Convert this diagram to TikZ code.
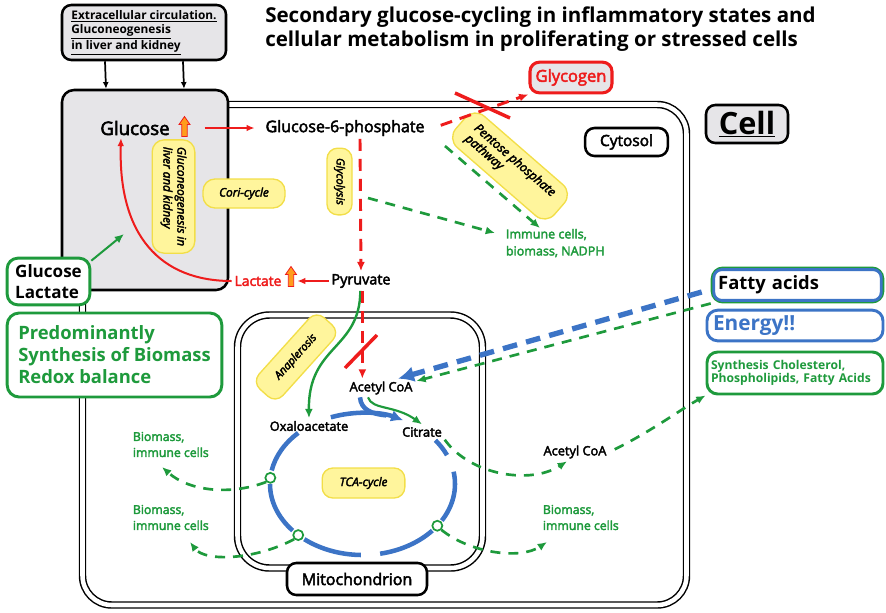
\documentclass[tikz,border=0pt]{standalone}
\usepackage{fontspec}
\setmainfont{Open Sans}
\newfontfamily\semi{Open Sans}[FakeBold=3]
\usetikzlibrary{arrows.meta}
\definecolor{cgreen}{HTML}{1E9A3C}
\definecolor{cred}{HTML}{EE1C1C}
\definecolor{cblue}{HTML}{3C74C6}
\definecolor{pillfill}{HTML}{FFF59C}
\definecolor{pillline}{HTML}{F2DE48}
\definecolor{boxgrey}{HTML}{E6E5E8}
\definecolor{uporange}{HTML}{FF9C1C}
\tikzset{
  uparrow/.pic={\filldraw[fill=uporange, draw=cred, line width=0.6pt]
    (0,-10) -- (5.5,-2) -- (2.7,-2) -- (2.7,10) -- (-2.7,10) -- (-2.7,-2) -- (-5.5,-2) -- cycle;}
}
\begin{document}
\begin{tikzpicture}[x=0.75pt,y=-0.75pt,
  every node/.style={inner sep=2pt},
  lbl/.style={font=\semi\fontsize{9.6}{11}\selectfont},
  glbl/.style={font=\semi\fontsize{9.2}{12}\selectfont, text=cgreen, align=left},
  pill/.style={draw=pillline, fill=pillfill, line width=1pt, rounded corners=8pt,
    font=\semi\itshape\fontsize{8.8}{10.5}\selectfont, align=left},
  frame/.style={draw=black, line width=1.9pt, rounded corners=7pt, fill=white},
  membrane/.style={draw=black, double=white, line width=1.1pt, double distance=3.4pt},
  gbox/.style={draw=cgreen, line width=2.2pt, rounded corners=8pt, fill=white},
  blkarr/.style={draw=black, line width=1.3pt, -{Latex[length=5pt,width=4.5pt]}},
  redarr/.style={draw=cred, line width=1.5pt, -{Latex[length=6pt,width=5pt]}},
  reddash/.style={draw=cred, line width=2.2pt, dash pattern=on 9pt off 6pt, -{Latex[length=7pt,width=6pt]}},
  gdash/.style={draw=cgreen, line width=2pt, dash pattern=on 7.5pt off 6pt, -{Latex[length=7pt,width=6pt]}},
  gsolid/.style={draw=cgreen, line width=1.8pt, -{Latex[length=7pt,width=6pt]}},
  bdash/.style={draw=cblue, line width=4pt, dash pattern=on 11pt off 7pt, -{Latex[length=12pt,width=12pt]}},
  tcaarc/.style={draw=cblue, line width=3.4pt},
  block/.style={draw=cred, line width=2.6pt},
  exitdot/.style={circle, draw=cgreen, fill=white, line width=1.3pt, minimum size=7.5pt, inner sep=0pt}
]
\useasboundingbox (0,0) rectangle (886,612);

% title
\node[anchor=north west, inner sep=0pt, align=left, font=\bfseries\fontsize{15.4}{17.5}\selectfont] (title) at (265,7)
  {Secondary glucose-cycling in inflammatory states and\\cellular metabolism in proliferating or stressed cells};

% cell membrane and mitochondrion
\draw[membrane, rounded corners=22pt] (82.5,104.5) rectangle (686.5,605);
\draw[membrane, rounded corners=24pt] (237.5,315) rectangle (482.5,568);

% extracellular side
\node[frame, fill=boxgrey, minimum width=123pt, minimum height=41.25pt, align=left, inner sep=1pt,
  font=\bfseries\fontsize{8.9}{10.5}\selectfont] (extra) at (144,32.5)
  {\underline{Extracellular circulation.}\\\underline{Gluconeogenesis}\\\underline{in liver and kidney}};
\node[frame, fill=boxgrey, minimum width=124.5pt, minimum height=150pt, rounded corners=9pt] (glubox) at (145,190) {};
\draw[blkarr] ([xshift=-29.25pt]extra.south) -- ([xshift=-29.25pt]glubox.north);
\draw[blkarr] ([xshift=29.25pt]extra.south) -- ([xshift=29.25pt]glubox.north);

% labels of compartments
\node[frame, fill=boxgrey, minimum width=61.5pt, minimum height=28.5pt, inner sep=0pt,
  font=\bfseries\fontsize{23}{26}\selectfont] (cell) at (747,124) {\underline{Cell}};
\node[frame, minimum width=62pt, minimum height=21pt, font=\semi\fontsize{11.6}{13}\selectfont] (cytosol) at (626.5,142) {Cytosol};
\node[frame, minimum width=105pt, minimum height=24pt, font=\semi\fontsize{12}{14}\selectfont] (mito) at (357,579) {Mitochondrion};
\node[frame, draw=cred, fill=boxgrey, line width=2.3pt, minimum width=61.5pt, minimum height=23pt,
  text=cred, font=\semi\fontsize{12.4}{14}\selectfont] (glycogen) at (571,77.5) {Glycogen};

% pathway pills
\node[pill, rotate=-90, minimum width=85pt, minimum height=32pt, rounded corners=9pt, inner sep=1pt] (gng) at (173.5,196.5)
  {Gluconeogenesis in\\liver and kidney};
\node[pill, minimum width=61.5pt, minimum height=21.75pt, rounded corners=9pt] (cori) at (244,193.5) {Cori-cycle};
\node[pill, rotate=-90, minimum width=50pt, minimum height=18.75pt, inner sep=1pt, font=\semi\itshape\fontsize{8.3}{9}\selectfont] (glycolysis) at (339.5,181.5) {Glycolysis};
\node[pill, rotate=-41, minimum width=98pt, minimum height=31pt, rounded corners=10pt,
  font=\semi\itshape\fontsize{9.2}{10.5}\selectfont] (ppp) at (510,166) {Pentose phosphate\\pathway};
\node[pill, rotate=48, minimum width=72pt, minimum height=24pt, font=\semi\itshape\fontsize{8.3}{9}\selectfont] (anap) at (296,357) {Anaplerosis};
\node[pill, minimum width=62pt, minimum height=22.5pt] (tca) at (363.5,483) {TCA-cycle};

% metabolites
\node[font=\semi\fontsize{14}{16}\selectfont] (gluc) at (135,128) {Glucose};
\pic at (184.5,126.5) {uparrow};
\node[font=\semi\fontsize{12}{14}\selectfont] (g6p) at (345,128) {Glucose-6-phosphate};
\node[font=\semi\fontsize{10.8}{12}\selectfont] (pyr) at (361,281) {Pyruvate};
\node[font=\semi\fontsize{10.4}{12}\selectfont, text=cred] (lac) at (258,281) {Lactate};
\pic at (291,276.5) {uparrow};
\node[lbl] (acoa) at (381,388) {Acetyl CoA};
\node[lbl] (oxa) at (309,426) {Oxaloacetate};
\node[lbl] (cit) at (422,432) {Citrate};
\node[lbl] (acoa2) at (575,452) {Acetyl CoA};

\node[glbl, anchor=north west, font=\semi\fontsize{9.4}{12.75}\selectfont] (immune) at (503,226) {Immune cells,\\biomass, NADPH};
\node[glbl, anchor=south west] (bm1) at (130,460) {Biomass,\\immune cells};
\node[glbl, anchor=south west] (bm2) at (130,533) {Biomass,\\immune cells};
\node[glbl, anchor=south west] (bm3) at (540,533) {Biomass,\\immune cells};

% boxes outside the cell
\node[gbox, minimum width=62pt, minimum height=35pt, align=left, inner sep=1pt,
  font=\bfseries\fontsize{12.8}{15.75}\selectfont] (gl) at (48.5,281.5) {Glucose\\Lactate};
\node[gbox, minimum width=161pt, minimum height=63pt, rounded corners=9pt, align=left, text=cgreen, inner sep=1pt,
  font=\bfseries\fontsize{13.8}{16.5}\selectfont] (pred) at (114.5,355)
  {Predominantly\\Synthesis of Biomass\\Redox balance};
\node[gbox, text width=119pt, inner xsep=4.5pt, minimum height=25.5pt, align=left,
  font=\bfseries\fontsize{13.8}{15}\selectfont] (fa) at (797.5,285) {Fatty acids};
\draw[cblue, line width=2.2pt, rounded corners=6pt] ([shift={(2.3pt,-2.3pt)}]fa.north west) rectangle ([shift={(-2.3pt,2.3pt)}]fa.south east);
\node[draw=cblue, line width=2.2pt, rounded corners=8pt, fill=white, text=cblue, text width=123pt, inner xsep=4.5pt,
  minimum height=23pt, align=left, font=\bfseries\fontsize{15.6}{17}\selectfont] (en) at (795,325.5) {Energy!!};
\node[gbox, text=cgreen, text width=126pt, inner xsep=3pt, minimum height=31.5pt, align=left,
  font=\bfseries\fontsize{9.1}{10}\selectfont] (syn) at (795,373) {Synthesis Cholesterol,\\Phospholipids, Fatty Acids};

% glycolysis and branches
\draw[redarr] ([xshift=24pt]gluc.east) -- ([xshift=-6pt]g6p.west);
\draw[reddash] ([xshift=11.25pt]g6p.south) -- (pyr.north);
\draw[reddash] ([shift={(10pt,2pt)}]g6p.east) -- (glycogen.south west);
\draw[block] (455,93) -- (510,118);
\draw[redarr] (pyr.west) -- ([xshift=9.75pt]lac.east);
\draw[redarr] (lac.west) .. controls (160,281) and (118,235) .. ([xshift=-10.5pt]gluc.south);
\coordinate (gluin) at (124,234);
\draw[gsolid, line width=1.5pt] ([yshift=-3pt]gl.north east) -- (gluin);

\coordinate (glyout) at (368,198);
\coordinate (pppout) at (445,146);
\draw[gdash] (glyout) -- ([shift={(-6pt,-5.25pt)}]immune.north west);
\draw[gdash] (pppout) -- ([shift={(27.75pt,-1.5pt)}]immune.north west);

% into the mitochondrion
\draw[gsolid] ([xshift=-0.5pt]pyr.south) .. controls (360,350) and (308,345) .. (oxa.north);
\draw[reddash] ([xshift=1pt]pyr.south) -- ([xshift=-14pt]acoa.north);
\draw[block] (345,368) -- (377,335);
\draw[bdash] ([shift={(-6.75pt,-5.25pt)}]fa.west) -- ([xshift=-13pt]acoa.north east);
\draw[gdash] (fa.south west) -- ([shift={(0.75pt,5.25pt)}]acoa.east);

% TCA cycle
\coordinate (tcac) at (362.5,484);
\draw[tcaarc] ([xshift=-15.75pt]acoa.south) .. controls (361,410) and (372,414) .. ([shift={(285:92.5 and 71)}]tcac);
\draw[tcaarc, -{Latex[length=9pt,width=9pt]}] ([shift={(250:92.5 and 71)}]tcac) arc[start angle=250, end angle=296, x radius=92.5, y radius=71];
\draw[gsolid, line width=1.6pt] ([xshift=-9.75pt]acoa.south) .. controls (372,410) and (395,405) .. (cit.north);
\draw[tcaarc] ([shift={(226:92.5 and 71)}]tcac) arc[start angle=226, end angle=191, x radius=92.5, y radius=71];
\draw[tcaarc] ([shift={(180:92.5 and 71)}]tcac) arc[start angle=180, end angle=139, x radius=92.5, y radius=71];
\draw[tcaarc] ([shift={(129:92.5 and 71)}]tcac) arc[start angle=129, end angle=91, x radius=92.5, y radius=71];
\draw[tcaarc] ([shift={(79:92.5 and 71)}]tcac) arc[start angle=79, end angle=41, x radius=92.5, y radius=71];
\draw[tcaarc] ([shift={(31:92.5 and 71)}]tcac) arc[start angle=31, end angle=-10, x radius=92.5, y radius=71];
\draw[tcaarc] ([shift={(-24:92.5 and 71)}]tcac) arc[start angle=-24, end angle=-38, x radius=92.5, y radius=71];
\node[exitdot] (c1) at ([shift={(185:92.5 and 71)}]tcac) {};
\node[exitdot] (c2) at ([shift={(134:92.5 and 71)}]tcac) {};
\node[exitdot] (c3) at ([shift={(36:92.5 and 71)}]tcac) {};

% cataplerotic outflow
\draw[gdash] (c1.south west) .. controls (232,495) and (190,492) .. ([shift={(24pt,-5.25pt)}]bm1.south west);
\draw[gdash] (c2.south west) .. controls (255,560) and (205,562) .. ([shift={(45pt,-6.75pt)}]bm2.south west);
\draw[gdash] (c3.south east) .. controls (470,553) and (520,560) .. ([shift={(5.25pt,-6.75pt)}]bm3.south west);
\draw[gdash] (cit.south east) .. controls (470,475) and (530,485) .. ([xshift=-6pt]acoa2.south);
\draw[gdash] ([shift={(4pt,2pt)}]acoa2.east) .. controls (650,432) and (680,410) .. (syn.south west);
\end{tikzpicture}
\end{document}
